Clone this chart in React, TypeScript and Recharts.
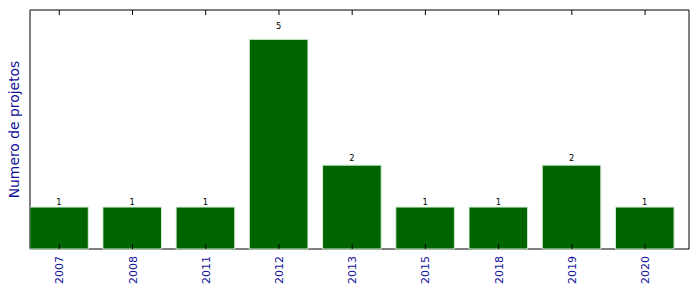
import React from 'react';
import { BarChart, Bar, XAxis, YAxis, LabelList, ReferenceArea } from 'recharts';

const categories = ['2007', '2008', '2011', '2012', '2013', '2015', '2018', '2019', '2020'];
const counts = [1, 1, 1, 5, 2, 1, 1, 2, 1];
const yLabel = 'Numero de projetos';
const yMax = 5.7;

const data = categories.map((c, i) => ({ year: c, count: counts[i], pos: i + 0.4 }));
const tickPositions = categories.map((_, i) => i + 0.4);

const BLUE = '#10109a';
const FONT = '"DejaVu Sans", sans-serif';
const TICK_SIZE = 6;
const TICK_MARGIN = 2;
const INNER_TICK = 5;

const BottomTick = (props: any) => {
  const { x, y, payload } = props;
  const idx = Math.round(payload.value - 0.4);
  const label = categories[idx] ?? '';
  const axisY = y - TICK_SIZE - TICK_MARGIN;
  const ty = y - 1;
  return (
    <g>
      <line x1={x} x2={x} y1={axisY} y2={axisY - INNER_TICK} stroke="#000" strokeWidth={1} />
      <text
        x={x}
        y={ty}
        dy={4}
        transform={`rotate(-90, ${x}, ${ty})`}
        textAnchor="end"
        fontSize={11}
        fontFamily={FONT}
        fill={BLUE}
      >
        {label}
      </text>
    </g>
  );
};

const TopTick = (props: any) => {
  const { x, y } = props;
  const axisY = y + TICK_SIZE + TICK_MARGIN;
  return <line x1={x} x2={x} y1={axisY} y2={axisY + INNER_TICK} stroke="#000" strokeWidth={1} />;
};

const ValueLabel = (props: any) => {
  const vb = props.viewBox && props.viewBox.width !== undefined ? props.viewBox : props;
  const { x, y, width, height } = vb;
  const value = props.value;
  const ly = y - 0.05 * height;
  return (
    <text x={x + width / 2} y={ly} textAnchor="middle" fontSize={8.3} fontFamily={FONT} fill="#000">
      {value}
    </text>
  );
};

const YTitle = (props: any) => {
  const vb = props.viewBox || { x: 0, y: 10, width: 30, height: 239 };
  const cx = vb.x + 19;
  const cy = vb.y + vb.height / 2;
  return (
    <text
      x={cx}
      y={cy}
      transform={`rotate(-90, ${cx}, ${cy})`}
      textAnchor="middle"
      fontSize={13.9}
      fontFamily={FONT}
      fill={BLUE}
    >
      {yLabel}
    </text>
  );
};

export default function App() {
  return (
    <div style={{ position: 'absolute', left: 0, top: 0, width: 699, height: 292, background: '#fff' }}>
      <BarChart
        width={699}
        height={292}
        data={data}
        margin={{ top: 9, right: 10, left: 0, bottom: 0 }}
      >
        <XAxis
          dataKey="pos"
          type="number"
          domain={[0, 9]}
          ticks={tickPositions}
          interval={0}
          allowDataOverflow
          height={43}
          tickSize={TICK_SIZE}
          tickMargin={TICK_MARGIN}
          tickLine={false}
          axisLine={false}
          tick={<BottomTick />}
        />
        <XAxis
          xAxisId="top"
          orientation="top"
          dataKey="pos"
          type="number"
          domain={[0, 9]}
          ticks={tickPositions}
          interval={0}
          allowDataOverflow
          height={1}
          tickSize={TICK_SIZE}
          tickMargin={TICK_MARGIN}
          tickLine={false}
          axisLine={false}
          tick={<TopTick />}
        />
        <YAxis
          domain={[0, yMax]}
          width={30}
          tick={false}
          tickLine={false}
          axisLine={false}
          label={{ content: (p: any) => <YTitle {...p} /> }}
        />
        <Bar
          dataKey="count"
          fill="#006400"
          stroke="#d4ecd4"
          strokeWidth={1}
          barSize={58.6}
          isAnimationActive={false}
        >
          <LabelList dataKey="count" content={(p: any) => <ValueLabel {...p} />} />
        </Bar>
        <ReferenceArea x1={0} x2={9} y1={0} y2={yMax} fill="none" fillOpacity={0} stroke="#000" strokeWidth={1} ifOverflow="visible" />
      </BarChart>
    </div>
  );
}
